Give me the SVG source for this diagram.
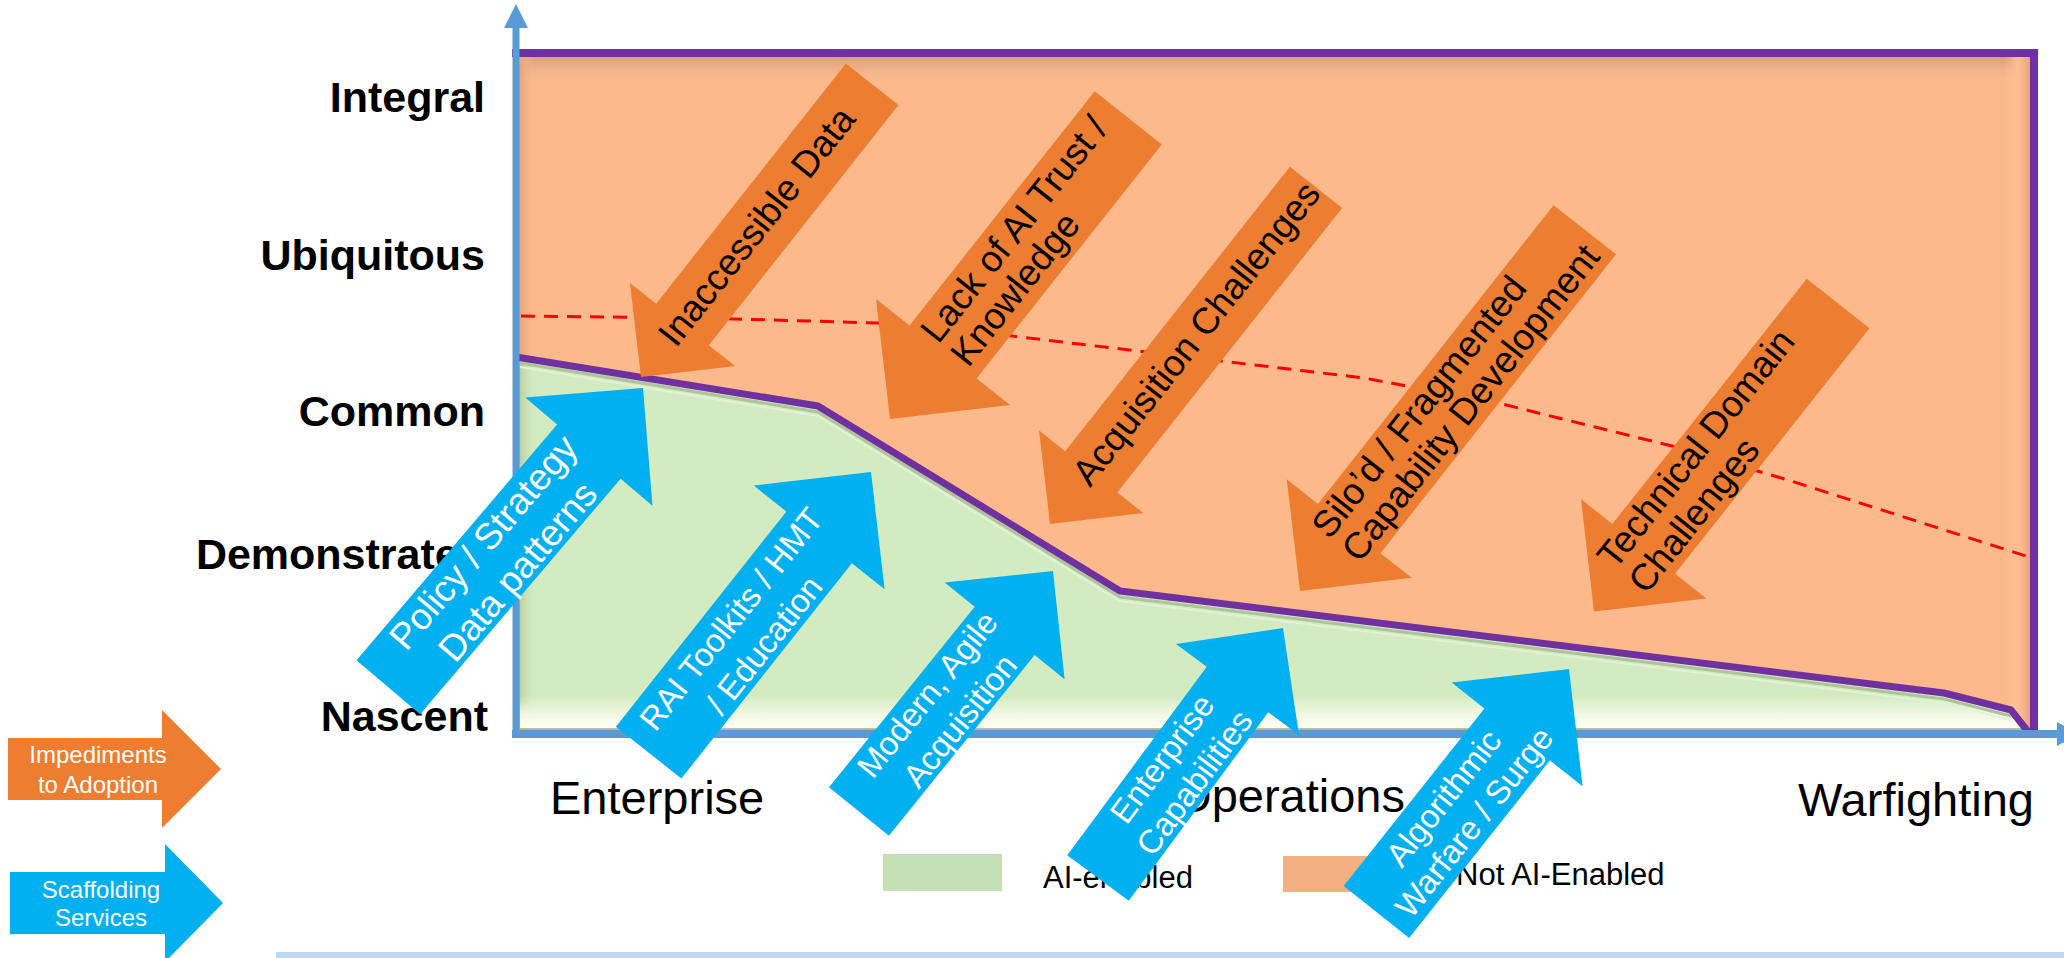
<svg xmlns="http://www.w3.org/2000/svg" width="2064" height="958" viewBox="0 0 2064 958">
<style>
  text { font-family: "Liberation Sans", Arial, sans-serif; }
  .ylab { font-weight: bold; font-size: 43px; text-anchor: end; fill: #000; }
  .xlab { font-size: 47px; fill: #000; }
  .leg { font-size: 31px; fill: #000; }
  .oarr { fill: #ED7D31; }
  .barr { fill: #00B0F0; }
  .otxt { font-size: 37px; fill: #000; }
  .btxt { font-size: 33px; fill: #fff; text-anchor: middle; }
  .ktxt { font-size: 24px; fill: #fff; text-anchor: middle; }
  .axis { stroke: #5B9BD5; fill: none; }
  .purple { stroke: #7030A0; fill: none; stroke-linejoin: round; }
</style>
<defs>
  <linearGradient id="oTop" gradientUnits="userSpaceOnUse" x1="0" y1="57" x2="0" y2="84">
    <stop offset="0" stop-color="#D49F80"/>
    <stop offset="1" stop-color="#FCB98C" stop-opacity="0"/>
  </linearGradient>
  <linearGradient id="oLeft" gradientUnits="userSpaceOnUse" x1="519" y1="0" x2="536" y2="0">
    <stop offset="0" stop-color="#E3A47E"/>
    <stop offset="1" stop-color="#FCB98C" stop-opacity="0"/>
  </linearGradient>
  <linearGradient id="oRight" gradientUnits="userSpaceOnUse" x1="2004" y1="0" x2="2031" y2="0">
    <stop offset="0" stop-color="#FFC395" stop-opacity="0"/>
    <stop offset="0.5" stop-color="#FFC395" stop-opacity="0.8"/>
    <stop offset="0.8" stop-color="#F2AF84"/>
    <stop offset="1" stop-color="#E2A07A"/>
  </linearGradient>
  <linearGradient id="gLeft" gradientUnits="userSpaceOnUse" x1="519" y1="0" x2="536" y2="0">
    <stop offset="0" stop-color="#B5CB9F"/>
    <stop offset="1" stop-color="#D2EBC0" stop-opacity="0"/>
  </linearGradient>
  <linearGradient id="gBottom" gradientUnits="userSpaceOnUse" x1="0" y1="696" x2="0" y2="728">
    <stop offset="0" stop-color="#F8FBEC" stop-opacity="0"/>
    <stop offset="0.55" stop-color="#F4F9E6" stop-opacity="0.9"/>
    <stop offset="1" stop-color="#FEFFF6"/>
  </linearGradient>
  <clipPath id="greenClip">
    <polygon points="520,357 818,406 1120,591 1944,693 2011,710 2029,733 520,733"/>
  </clipPath>
</defs>

<g id="chart-area">
  <rect x="519" y="57" width="1512" height="676" fill="#FCB98C"/>
  <rect x="519" y="57" width="1512" height="28" fill="url(#oTop)"/>
  <rect x="519" y="57" width="18" height="676" fill="url(#oLeft)"/>
  <rect x="2004" y="57" width="27" height="676" fill="url(#oRight)"/>
  <polyline id="target-line" points="521,316 700,318 879,323 1012,336 1146,352 1364,378 1498,403 1676,447 1788,480 2029,557" fill="none" stroke="#FF0000" stroke-width="3" stroke-dasharray="14 9" stroke-linejoin="round"/>
  <polygon id="ai-enabled-area" points="520,357 818,406 1120,591 1944,693 2011,710 2029,733 520,733" fill="#D2EBC0"/>
  <g clip-path="url(#greenClip)">
    <rect x="519" y="350" width="18" height="384" fill="url(#gLeft)"/>
    <rect x="519" y="696" width="1512" height="33" fill="url(#gBottom)"/>
    <polyline points="520,363 818,412 1120,597 1944,699 2011,716" fill="none" stroke="#ADC59B" stroke-width="3"/>
    <polyline points="520,367 818,416 1120,601 1944,703 2011,720" fill="none" stroke="#E4F1D9" stroke-width="2"/>
    <line x1="519" y1="729" x2="2030" y2="729" stroke="#9CAF7B" stroke-width="1.5"/>
  </g>
  <line class="purple" x1="512" y1="53" x2="2038" y2="53" stroke-width="8"/>
  <line class="purple" x1="2034" y1="49" x2="2034" y2="736" stroke-width="8"/>
  <polyline class="purple" points="516,357 818,406 1120,591 1944,693 2011,710 2029,733" stroke-width="7"/>
</g>

<g id="axes">
  <line class="axis" x1="516" y1="26" x2="516" y2="738" stroke-width="7"/>
  <polygon points="504,28 516,4 528,28" fill="#5B9BD5"/>
  <line class="axis" x1="512" y1="734" x2="2058" y2="734" stroke-width="8"/>
  <polygon points="2057,722 2080,734 2057,746" fill="#5B9BD5"/>
  <rect x="276" y="952" width="1788" height="6" fill="#BDD7EE"/>
</g>

<g id="y-labels">
  <text class="ylab" x="485" y="112">Integral</text>
  <text class="ylab" x="485" y="270">Ubiquitous</text>
  <text class="ylab" x="485" y="426">Common</text>
  <text class="ylab" x="485" y="569">Demonstrated</text>
  <text class="ylab" x="488" y="731">Nascent</text>
</g>

<g id="x-labels">
  <text class="xlab" x="550" y="814">Enterprise</text>
  <text class="xlab" x="1405" y="812" text-anchor="end">Operations</text>
  <text class="xlab" x="1798" y="816">Warfighting</text>
</g>

<g id="legend">
  <rect x="883" y="854" width="119" height="37" fill="#C5E0B4"/>
  <text class="leg" x="1043" y="888">AI-enabled</text>
  <rect x="1283" y="856" width="118" height="36" fill="#F3B083"/>
  <text class="leg" x="1456" y="885">Not AI-Enabled</text>
</g>

<g id="key-impediments">
  <polygon points="8,738 162,738 162,710 221,769 162,828 162,800 8,800" fill="#ED7D31"/>
  <text class="ktxt" x="98" y="763">Impediments</text>
  <text class="ktxt" x="98" y="793">to Adoption</text>
</g>
<g id="key-scaffolding">
  <polygon points="10,872 165,872 165,844 223,903 165,962 165,934 10,934" fill="#00B0F0"/>
  <text class="ktxt" x="101" y="898">Scaffolding</text>
  <text class="ktxt" x="101" y="926">Services</text>
</g>

<g id="imp-inaccessible-data" transform="translate(641,377) rotate(-51.7)">
  <polygon class="oarr" points="0,0 67,-67 67,-33.5 373,-33.5 373,33.5 67,33.5 67,67"/>
  <text class="otxt" x="44" y="10">Inaccessible Data</text>
</g>
<g id="imp-ai-trust" transform="translate(890,419) rotate(-51.65)">
  <polygon class="oarr" points="0,0 85.5,-85.5 85.5,-42.75 384,-42.75 384,42.75 85.5,42.75 85.5,85.5"/>
  <text class="otxt" x="88" y="-8">Lack of AI Trust /</text>
  <text class="otxt" x="88" y="30">Knowledge</text>
</g>
<g id="imp-acquisition" transform="translate(1050,524) rotate(-51.67)">
  <polygon class="oarr" points="0,0 66.5,-66.5 66.5,-33.25 429,-33.25 429,33.25 66.5,33.25 66.5,66.5"/>
  <text class="otxt" x="53" y="9">Acquisition Challenges</text>
</g>
<g id="imp-siloed" transform="translate(1300,591) rotate(-51.75)">
  <polygon class="oarr" points="0,0 79.5,-79.5 79.5,-39.75 460,-39.75 460,39.75 79.5,39.75 79.5,79.5"/>
  <text class="otxt" x="58" y="-8">Silo’d / Fragmented</text>
  <text class="otxt" x="58" y="30">Capability Development</text>
</g>
<g id="imp-technical" transform="translate(1594,611.5) rotate(-51.6)">
  <polygon class="oarr" points="0,0 80,-80 80,-40 393,-40 393,40 80,40 80,80"/>
  <text class="otxt" x="45" y="-9">Technical Domain</text>
  <text class="otxt" x="45" y="31">Challenges</text>
</g>

<g id="svc-policy" transform="translate(643,388) rotate(-49.6)">
  <polygon class="barr" points="0,0 -83.5,-83.5 -83.5,-41.75 -393,-41.75 -393,41.75 -83.5,41.75 -83.5,83.5"/>
  <text class="btxt" x="-221" y="-9" style="font-size:37px">Policy / Strategy</text>
  <text class="btxt" x="-221" y="36" style="font-size:37px">Data patterns</text>
</g>
<g id="svc-rai" transform="translate(871,472) rotate(-51.6)">
  <polygon class="barr" points="0,0 -83.5,-83.5 -83.5,-41.75 -358,-41.75 -358,41.75 -83.5,41.75 -83.5,83.5"/>
  <text class="btxt" x="-202" y="-7">RAI Toolkits / HMT</text>
  <text class="btxt" x="-202" y="35">/ Education</text>
</g>
<g id="svc-acquisition" transform="translate(1053,571) rotate(-51.1)">
  <polygon class="barr" points="0,0 -77,-77 -77,-38.5 -309,-38.5 -309,38.5 -77,38.5 -77,77"/>
  <text class="btxt" x="-175" y="-9">Modern, Agile</text>
  <text class="btxt" x="-175" y="33">Acquisition</text>
</g>
<g id="svc-enterprise" transform="translate(1283,628) rotate(-53.5)">
  <polygon class="barr" points="0,0 -76.5,-76.5 -76.5,-38.25 -311,-38.25 -311,38.25 -76.5,38.25 -76.5,76.5"/>
  <text class="btxt" x="-177" y="-8">Enterprise</text>
  <text class="btxt" x="-177" y="32">Capabilities</text>
</g>
<g id="svc-algorithmic" transform="translate(1569,669) rotate(-51.6)">
  <polygon class="barr" points="0,0 -83.5,-83.5 -83.5,-41.75 -310,-41.75 -310,41.75 -83.5,41.75 -83.5,83.5"/>
  <text class="btxt" x="-179" y="-7">Algorithmic</text>
  <text class="btxt" x="-179" y="32">Warfare / Surge</text>
</g>
</svg>
